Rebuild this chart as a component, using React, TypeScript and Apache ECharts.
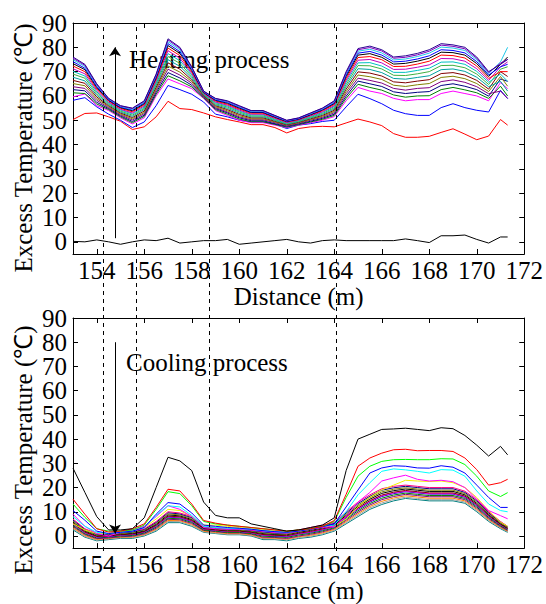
import React, { useEffect, useRef } from 'react';
import * as echarts from 'echarts';

// Distance samples (m)
const DIST = [153,153.5,154,154.5,155,155.5,156,156.5,157,157.5,158,158.5,159,159.5,160,160.5,161,161.5,162,162.5,163,163.5,164,164.5,165,165.5,166,166.5,167,167.5,168,168.5,169,169.5,170,170.5,171,171.3];
const X_TICKS = [154,156,158,160,162,164,166,168,170,172];
const Y_TICKS = [0,10,20,30,40,50,60,70,80,90];
const Y_LABELS_EVEN = [0,20,40,60,80];
const Y_LABELS_ODD = [10,30,50,70,90];
const BOUNDARIES = [154.25,155.65,158.7,164];

// Heating process (excess temperature, °C)
const H_BASE = [0.2,0,0.8,0,-1,0,0.8,0.5,1.5,-0.5,0,0.5,0.5,1,-1,-0.5,0,0.5,1,0,-0.5,0.5,0.8,0.5,0.5,0.5,0.5,0.5,1.2,0.5,-0.3,2.5,2.5,2.8,1,-0.5,2,2];
const H_RED = [50.3,52.8,53,51.4,49.6,46.2,47.3,51.4,57.8,54.8,54.4,53,51.4,50.3,49.3,48.2,48.2,47,44.8,46.6,47.3,47.5,47.3,48.9,50.5,49.3,47.8,44.5,43,43,43.4,45,46.5,44.3,42,43.5,50.3,48];
const H_BLUE = [58.2,59.3,55.5,52.5,50,47,49.3,56,64.3,62.6,60.7,57.5,52.5,51.4,50,49.3,49.3,48.4,46.6,48,48.6,49.5,50,55.5,60.7,58.9,56.8,54.1,52.7,52,52,55.2,56.8,55.2,54.1,53.4,62.3,58.9];
const H_MAG = [59.6,60.8,56,54,51,48.5,51,60,67,65,63,59,54,52,50,49,49,48,47,48,49,50,51.5,58,63.5,62,61,59,58,58.5,58.5,61,62,61,60,58,65.5,63];
const H_L1 = [61.3,61,56.7,54.4,51.4,49,51.6,60.7,68.3,66.2,63.7,59.2,54.4,52.5,50.5,49.4,49.4,48.3,47.2,48.2,49.3,50.4,52,59,64.8,63.5,62.4,60.4,59.5,60,60.1,62.6,63.5,62.5,61.3,59,64,60];
const H_L2 = [62.6,62.1,57.4,54.8,51.8,49.5,52.1,61.4,69.6,67.4,64.4,59.5,54.8,53,51,49.8,49.8,48.6,47.5,48.5,49.6,50.8,52.5,59.9,66.1,65,63.9,61.7,61,61.5,61.8,64.3,65,64,62.6,59.9,67,66];
const H_L3 = [63.8,63.1,58.2,55.2,52.2,50.1,52.7,62.2,71,68.6,65.2,59.7,55.2,53.4,51.4,50.2,50.2,49,47.7,48.7,50,51.2,53.1,60.9,67.3,66.4,65.3,63.1,62.4,63.1,63.4,65.9,66.6,65.6,63.8,60.9,62,59];
const H_L4 = [65.1,64.2,58.9,55.6,52.6,50.6,53.2,62.9,72.3,69.8,65.9,60,55.6,53.9,51.9,50.6,50.6,49.3,48,49,50.3,51.6,53.6,61.8,68.6,67.9,66.8,64.4,63.9,64.6,65.1,67.6,68.1,67.1,65.1,61.8,68,64];
const H_L5 = [66.4,65.2,59.6,56,53,51.1,53.8,63.6,73.6,71,66.6,60.2,56,54.4,52.4,51,51,49.6,48.2,49.2,50.6,52,54.1,62.8,69.9,69.4,68.2,65.8,65.4,66.1,66.7,69.2,69.6,68.6,66.4,62.8,70,68];
const H_L6 = [67.7,66.2,60.3,56.4,53.4,51.6,54.4,64.3,74.9,72.2,67.3,60.4,56.4,54.9,52.9,51.4,51.4,49.9,48.4,49.4,50.9,52.4,54.6,63.8,71.2,70.9,69.6,67.2,66.9,67.6,68.3,70.8,71.1,70.1,67.7,63.8,66,62];
const H_L7 = [69,67.3,61,56.8,53.8,52.1,54.9,65,76.2,73.4,68,60.7,56.8,55.4,53.4,51.8,51.8,50.2,48.7,49.7,51.2,52.8,55.1,64.7,72.5,72.4,71.1,68.5,68.4,69.1,70,72.5,72.6,71.6,69,64.7,71,72];
const H_L8 = [70.1,68.2,61.7,57.2,54.2,52.6,55.4,65.7,77.4,74.5,68.7,60.9,57.2,55.8,53.8,52.2,52.2,50.5,48.9,49.9,51.5,53.2,55.6,65.6,73.6,73.7,72.3,69.7,69.7,70.5,71.4,73.9,74,73,70.1,65.6,69,66];
const H_L9 = [71.2,69.1,62.3,57.5,54.5,53,55.9,66.3,78.6,75.5,69.3,61.1,57.5,56.2,54.2,52.5,52.5,50.8,49.1,50.1,51.8,53.5,56,66.4,74.7,75,73.6,70.9,71,71.8,72.8,75.4,75.3,74.3,71.2,66.4,72,74];
const H_L10 = [72.3,70,62.9,57.9,54.9,53.5,56.4,66.9,79.7,76.6,69.9,61.3,57.9,56.6,54.6,52.9,52.9,51.1,49.3,50.3,52.1,53.9,56.5,67.2,75.8,76.2,74.9,72.1,72.2,73.1,74.3,76.8,76.6,75.6,72.3,67.2,70,70];
const H_L11 = [73.3,70.8,63.5,58.2,55.2,53.9,56.8,67.5,80.7,77.5,70.5,61.5,58.2,57,55,53.2,53.2,51.3,49.5,50.5,52.3,54.2,56.9,68,76.8,77.4,75.9,73.1,73.4,74.3,75.5,78,77.8,76.8,73.3,68,73,76];
const H_L12 = [74.1,71.4,63.9,58.4,55.4,54.2,57.2,67.9,81.5,78.2,70.9,61.6,58.4,57.3,55.3,53.4,53.4,51.5,49.6,50.6,52.5,54.4,57.2,68.6,77.6,78.3,76.8,74,74.3,75.2,76.5,79,78.7,77.7,74.1,68.6,72,73];
const H_L13 = [74.9,72.1,64.4,58.7,55.7,54.5,57.5,68.4,82.3,79,71.4,61.8,58.7,57.6,55.6,53.7,53.7,51.7,49.8,50.8,52.7,54.7,57.5,69.2,78.4,79.2,77.7,74.8,75.2,76.2,77.6,80.1,79.7,78.7,74.9,69.2,74,80];
const H_L14 = [75.5,72.6,64.7,58.9,55.9,54.8,57.8,68.7,83,79.6,71.7,61.9,58.9,57.8,55.8,53.9,53.9,51.9,49.9,50.9,52.9,54.9,57.8,69.6,79,79.9,78.5,75.5,75.9,76.9,78.4,80.9,80.4,79.4,75.5,69.6,73.5,75];
const H_TOP = [76,73,65,59,56,55,58,69,83.5,80,72,62,59,58,56,54,54,52,50,51,53,55,58,70,79.5,80.5,79,76,76.5,77.5,79,81.5,81,80,76,70,73,75];

// Cooling process (excess temperature, °C)
const C_BLACK = [28,18,8,2.5,2.5,3,7.5,20,32.5,31,27,14,8.5,7.5,7.5,5,4,3,2,2.5,3.5,4.5,7.5,27,40,42,44,44.2,44.5,44,43.5,44.7,44.3,41.5,37.5,33,37,33.5];
const C_RED = [15.2,9,3,1.6,2,3,5,11.8,19.3,18.6,13.2,6.4,5.3,4.5,4,3.5,3,2.5,2,2.5,3,4,6.4,17.2,28.8,32.2,34.2,35.6,35.8,35.2,35.3,35.3,34.9,32.2,27.4,21,22,23.4];
const C_GREEN = [13.2,7.7,3,2,2,2.5,4.5,11,18.3,17.5,12.5,6,5,4.5,4,3.5,3,2.5,2,2.5,3,4,6,15.9,24.7,28.8,30.8,31.5,31.6,31.5,31.5,31.9,31.8,29.5,24.7,18.6,16.3,17.9];
const C_BLUE = [10.5,6.5,2,1,1.5,2,3.5,9,13.8,13.2,9.5,4.5,4,3.5,3.2,2.8,2.2,1.8,1.5,2,2.8,3.8,5,12,19,26,28.1,29,28.8,28.1,28,29,28.4,26,21,15.9,11.8,11.8];
const C_CYAN = [8,4,1.5,1,1.5,2,3.5,8.5,12.5,12,8.5,4,3.5,3.2,3,2.8,2.2,1.8,1.5,2.2,3,4,4.5,10,17,22,26.7,27.7,27.3,26.7,26,27.4,27.2,24.7,18.6,13.2,10.5,10];
const C_MAG = [9,4,1,0,1.5,2.5,4,8,12.5,11,8,3.5,3,2.8,2.8,2.5,2,1.5,1.2,2,2.8,3.5,4,8,14,18,22.7,24,25.1,23.4,22.7,23,22.4,20,15.2,10.5,8.4,7.1];
const C_YEL = [5,2.5,1,1,1.5,2.5,3.5,7,11,10.5,8,4.5,4.5,4,3.5,3,2.5,2,1.5,2,3,4,4,7,12,16,19,21,23,22.7,22.5,22.7,22,20,15.9,10.5,5.7,4];
const C_K0 = [2.5,-0.5,-2,-1.5,-1,-1,0,2,5.5,5.5,4,1.5,1,0.5,0.5,0,-1.5,-1.5,-2,-1,-0.5,0.5,2,5,8,11,13,14.5,15.5,15,14.5,14.5,14.5,13.5,10,6,3,1.5];
const C_K1 = [3,-0.2,-1.7,-1.2,-0.7,-0.7,0.3,2.4,6,5.9,4.4,1.7,1.2,0.7,0.7,0.2,-1.1,-1.2,-1.6,-0.6,-0.1,0.9,2.3,5.5,8.6,11.6,13.6,15.1,16,15.5,15,15,15,14,10.5,6.4,3.3,1.8];
const C_K2 = [3.4,0.2,-1.4,-1,-0.5,-0.4,0.6,2.8,6.4,6.3,4.8,2,1.5,1,1,0.5,-0.8,-0.9,-1.3,-0.3,0.3,1.3,2.7,6,9.2,12.2,14.3,15.7,16.6,16.1,15.6,15.6,15.6,14.5,11,6.8,3.6,2];
const C_K3 = [3.9,0.6,-1.1,-0.8,-0.3,-0.1,0.9,3.2,6.9,6.7,5.2,2.3,1.8,1.3,1.3,0.8,-0.5,-0.6,-1,0,0.7,1.7,3.1,6.5,9.8,12.8,15,16.3,17.2,16.7,16.2,16.2,16.2,15,11.5,7.2,3.9,2.3];
const C_K4 = [4.3,0.9,-0.8,-0.5,0,0.2,1.2,3.6,7.3,7.1,5.6,2.5,2,1.5,1.5,1,-0.1,-0.3,-0.6,0.4,1.1,2.1,3.4,7,10.4,13.4,15.6,16.9,17.7,17.2,16.7,16.7,16.7,15.5,12,7.6,4.2,2.5];
const C_K5 = [4.8,1.3,-0.5,-0.3,0.3,0.5,1.5,4,7.8,7.5,6,2.8,2.3,1.8,1.8,1.3,0.3,0,-0.3,0.8,1.5,2.5,3.8,7.5,11,14,16.3,17.5,18.3,17.8,17.3,17.3,17.3,16,12.5,8,4.5,2.8];
const C_K6 = [5,1.4,-0.4,-0.1,0.4,0.7,1.7,4.2,8,7.7,6.2,2.9,2.4,1.9,1.9,1.4,0.4,0.2,-0.1,0.9,1.7,2.7,3.9,7.8,11.3,14.3,16.6,17.8,18.5,18,17.5,17.5,17.5,16.3,12.8,8.2,4.7,2.9];
const C_K7 = [5.2,1.6,-0.2,0,0.5,0.8,1.8,4.4,8.2,7.9,6.4,3,2.5,2,2,1.5,0.6,0.3,0.1,1.1,1.9,2.9,4.1,8,11.6,14.6,16.9,18.1,18.8,18.3,17.8,17.8,17.8,16.5,13,8.4,4.8,3];
const C_K8 = [5.7,2,0.1,0.3,0.8,1.1,2.1,4.8,8.7,8.3,6.8,3.3,2.8,2.3,2.3,1.8,1,0.6,0.5,1.5,2.3,3.3,4.5,8.5,12.2,15.2,17.6,18.7,19.4,18.9,18.4,18.4,18.4,17,13.5,8.8,5.1,3.3];
const C_K9 = [6.1,2.3,0.4,0.5,1,1.4,2.4,5.2,9.1,8.7,7.2,3.5,3,2.5,2.5,2,1.3,0.9,0.8,1.8,2.7,3.7,4.8,9,12.8,15.8,18.2,19.3,19.9,19.4,18.9,18.9,18.9,17.5,14,9.2,5.4,3.5];
const C_K10 = [6.6,2.7,0.7,0.8,1.3,1.7,2.7,5.6,9.6,9.1,7.6,3.8,3.3,2.8,2.8,2.3,1.7,1.2,1.2,2.2,3.1,4.1,5.2,9.5,13.4,16.4,18.9,19.9,20.5,20,19.5,19.5,19.5,18,14.5,9.6,5.7,3.8];
const C_K11 = [7,3,1,1,1.5,2,3,6,10,9.5,8,4,3.5,3,3,2.5,2,1.5,1.5,2.5,3.5,4.5,5.5,10,14,17,19.5,20.5,21,20.5,20,20,20,18.5,15,10,6,4];

const HEATING = [
  { v: H_BASE, c: '#000000' }, { v: H_RED, c: '#ff0000' }, { v: H_BLUE, c: '#0000ff' }, { v: H_MAG, c: '#ff00ff' },
  { v: H_L1, c: '#008000' }, { v: H_L2, c: '#000080' }, { v: H_L3, c: '#800080' }, { v: H_L4, c: '#808000' },
  { v: H_L5, c: '#800000' }, { v: H_L6, c: '#00a0a0' }, { v: H_L7, c: '#40b040' }, { v: H_L8, c: '#00c0c0' },
  { v: H_L9, c: '#c000c0' }, { v: H_L10, c: '#ff0000' }, { v: H_L11, c: '#000000' }, { v: H_L12, c: '#0000ff' },
  { v: H_L13, c: '#20c8e8' }, { v: H_L14, c: '#8000c0' }, { v: H_TOP, c: '#2a0090' },
];
const COOLING = [
  { v: C_K0, c: '#008080' }, { v: C_K1, c: '#a0a0a0' }, { v: C_K2, c: '#ff8000' }, { v: C_K3, c: '#800080' },
  { v: C_K4, c: '#008000' }, { v: C_K5, c: '#0000c0' }, { v: C_K6, c: '#ff00ff' }, { v: C_K7, c: '#800000' },
  { v: C_K8, c: '#000000' }, { v: C_K9, c: '#808000' }, { v: C_K10, c: '#000080' }, { v: C_K11, c: '#ff0080' },
  { v: C_YEL, c: '#f0f000' }, { v: C_MAG, c: '#ff00ff' }, { v: C_CYAN, c: '#00ffff' }, { v: C_BLUE, c: '#0000ff' },
  { v: C_GREEN, c: '#00ff00' }, { v: C_RED, c: '#ff0000' }, { v: C_BLACK, c: '#000000' },
];

const ARROW_X = 154.77;
const FONT = "'Liberation Serif', 'Times New Roman', serif";

export default function App() {
  const ref = useRef<HTMLDivElement>(null);
  useEffect(() => {
    if (!ref.current) return;
    const chart = echarts.init(ref.current, null, { renderer: 'svg' });
    const tickStyle = { color: '#000', width: 1 };
    const mkX = (gridIndex: number, main: boolean) => ({
      type: 'value', gridIndex, min: 153, max: 172, position: main ? 'bottom' : 'top',
      axisLine: { show: true, onZero: false, lineStyle: tickStyle },
      axisTick: { show: true, inside: true, length: 5, customValues: X_TICKS, lineStyle: tickStyle },
      axisLabel: { show: main, customValues: X_TICKS, fontFamily: FONT, fontSize: 25, color: '#000', margin: 4,
        showMinLabel: true, showMaxLabel: true, hideOverlap: false },
      splitLine: { show: false },
      name: main ? 'Distance (m)' : '', nameLocation: 'middle', nameGap: 27,
      nameTextStyle: { fontFamily: FONT, fontSize: 25, color: '#000' },
    });
    // kind: 'main' (left, ticks + even labels), 'aux' (left, odd labels only), 'mirror' (right, ticks only)
    const mkY = (gridIndex: number, kind: string) => ({
      type: 'value', gridIndex, min: -5, max: 90, position: kind === 'mirror' ? 'right' : 'left', offset: 0,
      axisLine: { show: kind !== 'aux', onZero: false, lineStyle: tickStyle },
      axisTick: { show: kind !== 'aux', inside: true, length: 5, customValues: Y_TICKS, lineStyle: tickStyle },
      axisLabel: { show: kind !== 'mirror', customValues: kind === 'aux' ? Y_LABELS_ODD : Y_LABELS_EVEN,
        fontFamily: FONT, fontSize: 25, color: '#000', margin: 6,
        showMinLabel: true, showMaxLabel: true, hideOverlap: false },
      splitLine: { show: false },
    });
    const lineSeries = (list: { v: number[]; c: string }[], xi: number, yi: number) =>
      list.map((s) => ({
        type: 'line', xAxisIndex: xi, yAxisIndex: yi, showSymbol: false, symbol: 'none', silent: true,
        lineStyle: { color: s.c, width: 1 }, itemStyle: { color: s.c }, z: 3,
        data: DIST.map((d, i) => [d, s.v[i]]),
      }));
    const arrow = (xi: number, yi: number, from: number, to: number) => ({
      type: 'line', xAxisIndex: xi, yAxisIndex: yi, data: [], silent: true, z: 4,
      markLine: {
        silent: true, symbol: ['none', 'arrow'], symbolSize: 9, label: { show: false },
        lineStyle: { color: '#000', width: 1, type: 'solid' },
        data: [[{ coord: [ARROW_X, from] }, { coord: [ARROW_X, to] }]],
      },
    });
    chart.setOption({
      animation: false,
      backgroundColor: '#fff',
      textStyle: { fontFamily: FONT },
      grid: [
        { left: 73, top: 23, width: 454, height: 231 },
        { left: 73, top: 318, width: 454, height: 233 },
        { left: 73, top: 23, width: 454, height: 528 },
      ],
      xAxis: [mkX(0, true), mkX(0, false), mkX(1, true), mkX(1, false),
        { type: 'value', gridIndex: 2, min: 153, max: 172, show: false }],
      yAxis: [mkY(0, 'main'), mkY(0, 'aux'), mkY(0, 'mirror'), mkY(1, 'main'), mkY(1, 'aux'), mkY(1, 'mirror'),
        { type: 'value', gridIndex: 2, min: 0, max: 1, show: false }],
      graphic: [
        { type: 'text', x: 23, y: 148, rotation: Math.PI / 2, z: 0,
          style: { text: 'Excess Temperature (℃)', fontFamily: FONT, fontSize: 25, fill: '#000', align: 'center', verticalAlign: 'middle' } },
        { type: 'text', x: 23, y: 450, rotation: Math.PI / 2, z: 0,
          style: { text: 'Excess Temperature (℃)', fontFamily: FONT, fontSize: 25, fill: '#000', align: 'center', verticalAlign: 'middle' } },
        { type: 'text', x: 129, y: 59, z: 0,
          style: { text: 'Heating process', fontFamily: FONT, fontSize: 25, fill: '#000', align: 'left', verticalAlign: 'middle' } },
        { type: 'text', x: 126, y: 362, z: 0,
          style: { text: 'Cooling process', fontFamily: FONT, fontSize: 25, fill: '#000', align: 'left', verticalAlign: 'middle' } },
      ],
      series: [
        ...lineSeries(HEATING, 0, 0),
        ...lineSeries(COOLING, 2, 3),
        arrow(0, 0, 1.5, 80),
        arrow(2, 3, 80, 1),
        {
          type: 'line', xAxisIndex: 4, yAxisIndex: 6, data: [], silent: true, z: 1,
          markLine: {
            silent: true, symbol: ['none', 'none'], label: { show: false },
            lineStyle: { color: '#000', width: 1, type: [4, 4] },
            data: BOUNDARIES.map((b) => ({ xAxis: b })),
          },
        },
      ],
    });
    return () => chart.dispose();
  }, []);
  return <div ref={ref} style={{ position: 'absolute', left: 0, top: 0, width: 546, height: 604, background: '#fff' }} />;
}
